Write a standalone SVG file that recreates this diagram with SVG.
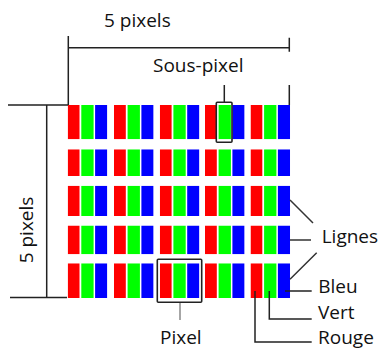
<svg xmlns="http://www.w3.org/2000/svg" xmlns:xlink="http://www.w3.org/1999/xlink" width="382" height="349" viewBox="0 0 382 349">
<style>
.t{font-family:"Open Sans","Noto Sans","DejaVu Sans",sans-serif;font-size:19px;fill:#111}
.ln{stroke:#222;stroke-width:1.5;fill:none}
.lg{stroke:#333;stroke-width:1.5;fill:none}
.box{stroke:#222;stroke-width:1.6;fill:none}
</style>
<defs>
<symbol id="px" viewBox="0 0 39.6 10" preserveAspectRatio="none">
<rect x="0" y="0" width="11.8" height="10" fill="#ff0000"/>
<rect x="13.6" y="0" width="12.3" height="10" fill="#00ff00"/>
<rect x="27.4" y="0" width="12.2" height="10" fill="#0000ff"/>
</symbol>
</defs>
<rect width="382" height="349" fill="#fff"/>
<g id="grid">
<use xlink:href="#px" x="67.7" y="105" width="39.6" height="34.3"/>
<use xlink:href="#px" x="114" y="105" width="39.6" height="34.3"/>
<use xlink:href="#px" x="159.8" y="105" width="39.6" height="34.3"/>
<use xlink:href="#px" x="205" y="105" width="39.6" height="34.3"/>
<use xlink:href="#px" x="250.5" y="105" width="39.6" height="34.3"/>
<use xlink:href="#px" x="67.7" y="149.3" width="39.6" height="26.7"/>
<use xlink:href="#px" x="114" y="149.3" width="39.6" height="26.7"/>
<use xlink:href="#px" x="159.8" y="149.3" width="39.6" height="26.7"/>
<use xlink:href="#px" x="205" y="149.3" width="39.6" height="26.7"/>
<use xlink:href="#px" x="250.5" y="149.3" width="39.6" height="26.7"/>
<use xlink:href="#px" x="67.7" y="185.7" width="39.6" height="30.3"/>
<use xlink:href="#px" x="114" y="185.7" width="39.6" height="30.3"/>
<use xlink:href="#px" x="159.8" y="185.7" width="39.6" height="30.3"/>
<use xlink:href="#px" x="205" y="185.7" width="39.6" height="30.3"/>
<use xlink:href="#px" x="250.5" y="185.7" width="39.6" height="30.3"/>
<use xlink:href="#px" x="67.7" y="225.5" width="39.6" height="28.8"/>
<use xlink:href="#px" x="114" y="225.5" width="39.6" height="28.8"/>
<use xlink:href="#px" x="159.8" y="225.5" width="39.6" height="28.8"/>
<use xlink:href="#px" x="205" y="225.5" width="39.6" height="28.8"/>
<use xlink:href="#px" x="250.5" y="225.5" width="39.6" height="28.8"/>
<use xlink:href="#px" x="67.7" y="263.3" width="39.6" height="34.7"/>
<use xlink:href="#px" x="114" y="263.3" width="39.6" height="34.7"/>
<use xlink:href="#px" x="159.8" y="263.3" width="39.6" height="34.7"/>
<use xlink:href="#px" x="205" y="263.3" width="39.6" height="34.7"/>
<use xlink:href="#px" x="250.5" y="263.3" width="39.6" height="34.7"/>
</g>
<g id="connectors">
<path class="ln" d="M68.3 36V105M68.3 47.7H289.3M289.3 37.7V51.7M289.3 85V105"/>
<path class="ln" d="M8 105H68M46.7 105V297.5M10 297.5H67"/>
<path class="ln" d="M224.3 85V102.3"/>
<path d="M180 302.3V320" stroke="#888" stroke-width="1.5" fill="none"/>
<path class="lg" d="M290 200L313 223M290 240H311M290 279.3L316.7 252.7"/>
<path class="ln" d="M285 291H311.7M269.3 291V319H311.7M255 291V342H311.7"/>
</g>
<g id="sous-pixel-box"><rect class="box" x="216.3" y="102.3" width="15.7" height="40" rx="1"/></g>
<g id="pixel-box"><rect class="box" x="157.3" y="259.3" width="44.4" height="43" rx="1"/></g>
<g id="labels">
<text class="t" x="104" y="26.7">5 pixels</text>
<text class="t" transform="translate(33.3 263.3) rotate(-90)">5 pixels</text>
<text class="t" x="153" y="72.3">Sous-pixel</text>
<text class="t" x="160" y="343.5">Pixel</text>
<text class="t" x="321.7" y="243.3">Lignes</text>
<text class="t" x="318.3" y="293.3">Bleu</text>
<text class="t" x="318" y="318.5">Vert</text>
<text class="t" x="318" y="343.5">Rouge</text>
</g>
</svg>
